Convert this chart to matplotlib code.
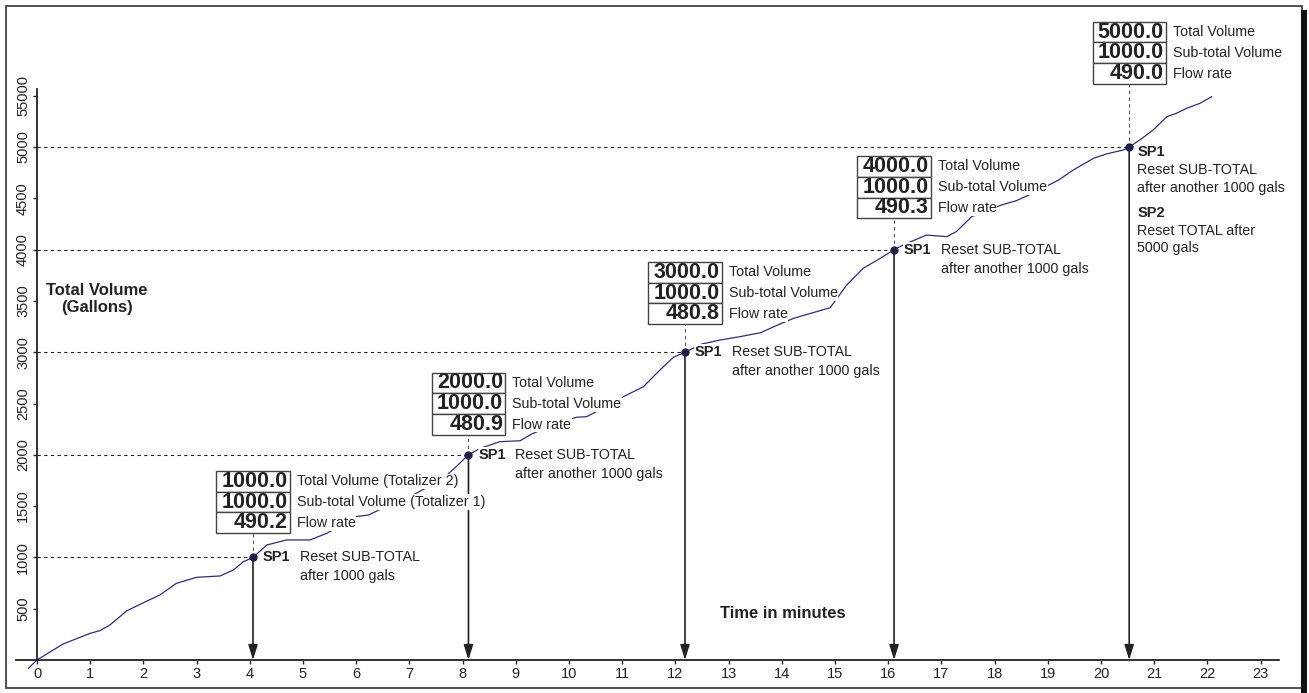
import matplotlib.pyplot as plt
from matplotlib.patches import Rectangle

plt.rcParams['font.family'] = ['Liberation Sans', 'DejaVu Sans']

# region Data
# totalizer curve (minutes, gallons)
curve_t = [-0.16, 0.0, 0.49, 1.0, 1.18, 1.37, 1.69, 2.0, 2.31, 2.62, 3.0, 3.44, 3.69,
           3.88, 4.06, 4.32, 4.69, 5.13, 5.45, 5.98, 6.23, 6.5, 7.0, 7.4, 7.7, 7.89,
           8.11, 8.33, 8.7, 9.08, 9.3, 9.7, 10.14, 10.33, 10.7, 11.02, 11.4, 11.71,
           11.96, 12.18, 12.5, 12.84, 13.2, 13.6, 13.9, 14.22, 14.91, 15.22, 15.53,
           15.85, 16.11, 16.35, 16.72, 17.1, 17.28, 17.57, 18.13, 18.41, 18.8, 19.2,
           19.48, 19.86, 20.1, 20.42, 20.53, 20.73, 20.98, 21.24, 21.42, 21.61,
           21.86, 22.08]
curve_v = [-80, 0, 156, 260, 286, 341, 480, 558, 634, 747, 806, 819, 877,
           958, 1000, 1121, 1170, 1170, 1235, 1397, 1413, 1480, 1590, 1700, 1800, 1890,
           2000, 2063, 2128, 2137, 2203, 2290, 2366, 2371, 2470, 2566, 2664, 2826,
           2950, 3000, 3080, 3119, 3150, 3190, 3260, 3330, 3434, 3655, 3818,
           3915, 4000, 4061, 4142, 4126, 4175, 4321, 4435, 4477, 4570, 4678,
           4776, 4890, 4932, 4971, 5000, 5068, 5166, 5296, 5329, 5377,
           5426, 5490]

# setpoint trips
sp_t = [4.06, 8.11, 12.18, 16.11, 20.53]
sp_v = [1000, 2000, 3000, 4000, 5000]

# display readings at each trip
total_disp = ['1000.0', '2000.0', '3000.0', '4000.0', '5000.0']
subtotal_disp = ['1000.0', '1000.0', '1000.0', '1000.0', '1000.0']
flow_disp = ['490.2', '480.9', '480.8', '490.3', '490.0']

row_names_first = ['Total Volume (Totalizer 2)', 'Sub-total Volume (Totalizer 1)', 'Flow rate']
row_names = ['Total Volume', 'Sub-total Volume', 'Flow rate']
reset_notes = ['after 1000 gals', 'after another 1000 gals', 'after another 1000 gals',
               'after another 1000 gals']

x_ticks = list(range(24))
y_ticks = [500, 1000, 1500, 2000, 2500, 3000, 3500, 4000, 4500, 5000, 5500]
y_ticklabels = ['500', '1000', '1500', '2000', '2500', '3000', '3500', '4000', '4500',
                '5000', '55000']
# endregion

# layout: pixel scale of the original drawing
PX_X = 53.2      # px per minute
PX_Y = 0.1026    # px per gallon
box_bottom = [1235, 2193, 3272, 4305, 5614]
box_w = 73.3 / PX_X
row_h = 20.8 / PX_Y

ink = '#222222'
curve_col = '#2f2f70'

fig = plt.figure(figsize=(13.09, 6.93), dpi=100)
ax = fig.add_axes([0, 0, 1, 1])
ax.set_xlim(-37 / PX_X, (1309 - 37) / PX_X)
ax.set_ylim((660 - 693) / PX_Y, 660 / PX_Y)
ax.patch.set_alpha(0)

for s in ['top', 'right']:
    ax.spines[s].set_visible(False)
ax.spines['left'].set_position(('data', 0))
ax.spines['bottom'].set_position(('data', 0))
ax.spines['left'].set_bounds(0, 5565)
ax.spines['bottom'].set_bounds(-0.4, 23.35)
for s in ['left', 'bottom']:
    ax.spines[s].set_color(ink)
    ax.spines[s].set_linewidth(1.3)

ax.set_xticks(x_ticks)
ax.set_xticklabels([str(t) for t in x_ticks])
ax.set_yticks(y_ticks)
ax.set_yticklabels(y_ticklabels, rotation=90, va='center')
ax.tick_params(axis='both', direction='out', length=3, width=1, color=ink,
               labelcolor=ink, labelsize=10.5, pad=2)

# curve
ax.plot(curve_t, curve_v, color=curve_col, lw=0.9, zorder=2)

txt_bg = dict(boxstyle='square,pad=0.05', fc='white', ec='none')

for i, (t, v) in enumerate(zip(sp_t, sp_v)):
    # dashed guide from y axis and up to the display
    ax.plot([0, t], [v, v], color=ink, lw=0.8, ls=(0, (3, 3)), zorder=1)
    ax.plot([t, t], [v, box_bottom[i]], color='#555555', lw=0.8, ls=(0, (3, 3)), zorder=1)
    # arrow to time axis
    ax.annotate('', xy=(t, 0), xytext=(t, v),
                arrowprops=dict(arrowstyle='-|>,head_length=0.9,head_width=0.28',
                                mutation_scale=10, color=ink, lw=1.2,
                                shrinkA=0, shrinkB=0), zorder=3)
    ax.plot(t, v, 'o', color='#1f1f45', ms=5, zorder=4)

    # display box
    left = t - box_w / 2
    names = row_names_first if i == 0 else row_names
    vals = [total_disp[i], subtotal_disp[i], flow_disp[i]]
    for r in range(3):
        y0 = box_bottom[i] + (2 - r) * row_h
        ax.add_patch(Rectangle((left, y0), box_w, row_h, fc='white', ec='#444444',
                               lw=1, zorder=5))
        ax.annotate(vals[r], xy=(left + box_w, y0 + row_h / 2), xytext=(-2, 0),
                    textcoords='offset pixels', ha='right', va='center',
                    fontsize=15.5, fontweight='bold', color=ink, zorder=6)
        ax.annotate(names[r], xy=(left + box_w, y0 + row_h / 2), xytext=(7, 0),
                    textcoords='offset pixels', ha='left', va='center',
                    fontsize=10.3, color=ink, bbox=txt_bg, zorder=6)

    # setpoint notes
    if i < 4:
        ax.annotate('SP1', xy=(t, v), xytext=(10, 0), textcoords='offset pixels',
                    ha='left', va='center', fontsize=10.5, fontweight='bold',
                    color=ink, bbox=txt_bg, zorder=6)
        ax.annotate('Reset SUB-TOTAL', xy=(t, v), xytext=(47, 0),
                    textcoords='offset pixels', ha='left', va='center',
                    fontsize=10.3, color=ink, bbox=txt_bg, zorder=6)
        ax.annotate(reset_notes[i], xy=(t, v), xytext=(47, -19),
                    textcoords='offset pixels', ha='left', va='center',
                    fontsize=10.3, color=ink, bbox=txt_bg, zorder=6)
    else:
        lines = [('SP1', 'bold', -5), ('Reset SUB-TOTAL', 'normal', -23),
                 ('after another 1000 gals', 'normal', -41), ('SP2', 'bold', -66),
                 ('Reset TOTAL after', 'normal', -84), ('5000 gals', 'normal', -101)]
        for s, w, dy in lines:
            ax.annotate(s, xy=(t, v), xytext=(8, dy), textcoords='offset pixels',
                        ha='left', va='center', fontsize=10.5 if w == 'bold' else 10.3,
                        fontweight=w, color=ink, bbox=txt_bg, zorder=6)

# axis titles
ax.text((783 - 37) / PX_X, (660 - 613) / PX_Y, 'Time in minutes', ha='center',
        va='center', fontsize=12, fontweight='bold', color=ink)
ax.text((97 - 37) / PX_X, (660 - 299) / PX_Y, 'Total Volume\n(Gallons)', ha='center',
        va='center', multialignment='center', linespacing=1.1, fontsize=12,
        fontweight='bold', color=ink)

# outer frame
W, H = 1309, 693
fig.add_artist(Rectangle((6 / W, (H - 688) / H), (1302 - 6) / W, (688 - 6) / H,
                         transform=fig.transFigure, fill=False, ec='#333333', lw=1.2))
fig.add_artist(Rectangle((1301 / W, 0), 6 / W, (H - 10) / H,
                         transform=fig.transFigure, fc='#111111', ec='none'))

fig.savefig('out.png', dpi=100)
